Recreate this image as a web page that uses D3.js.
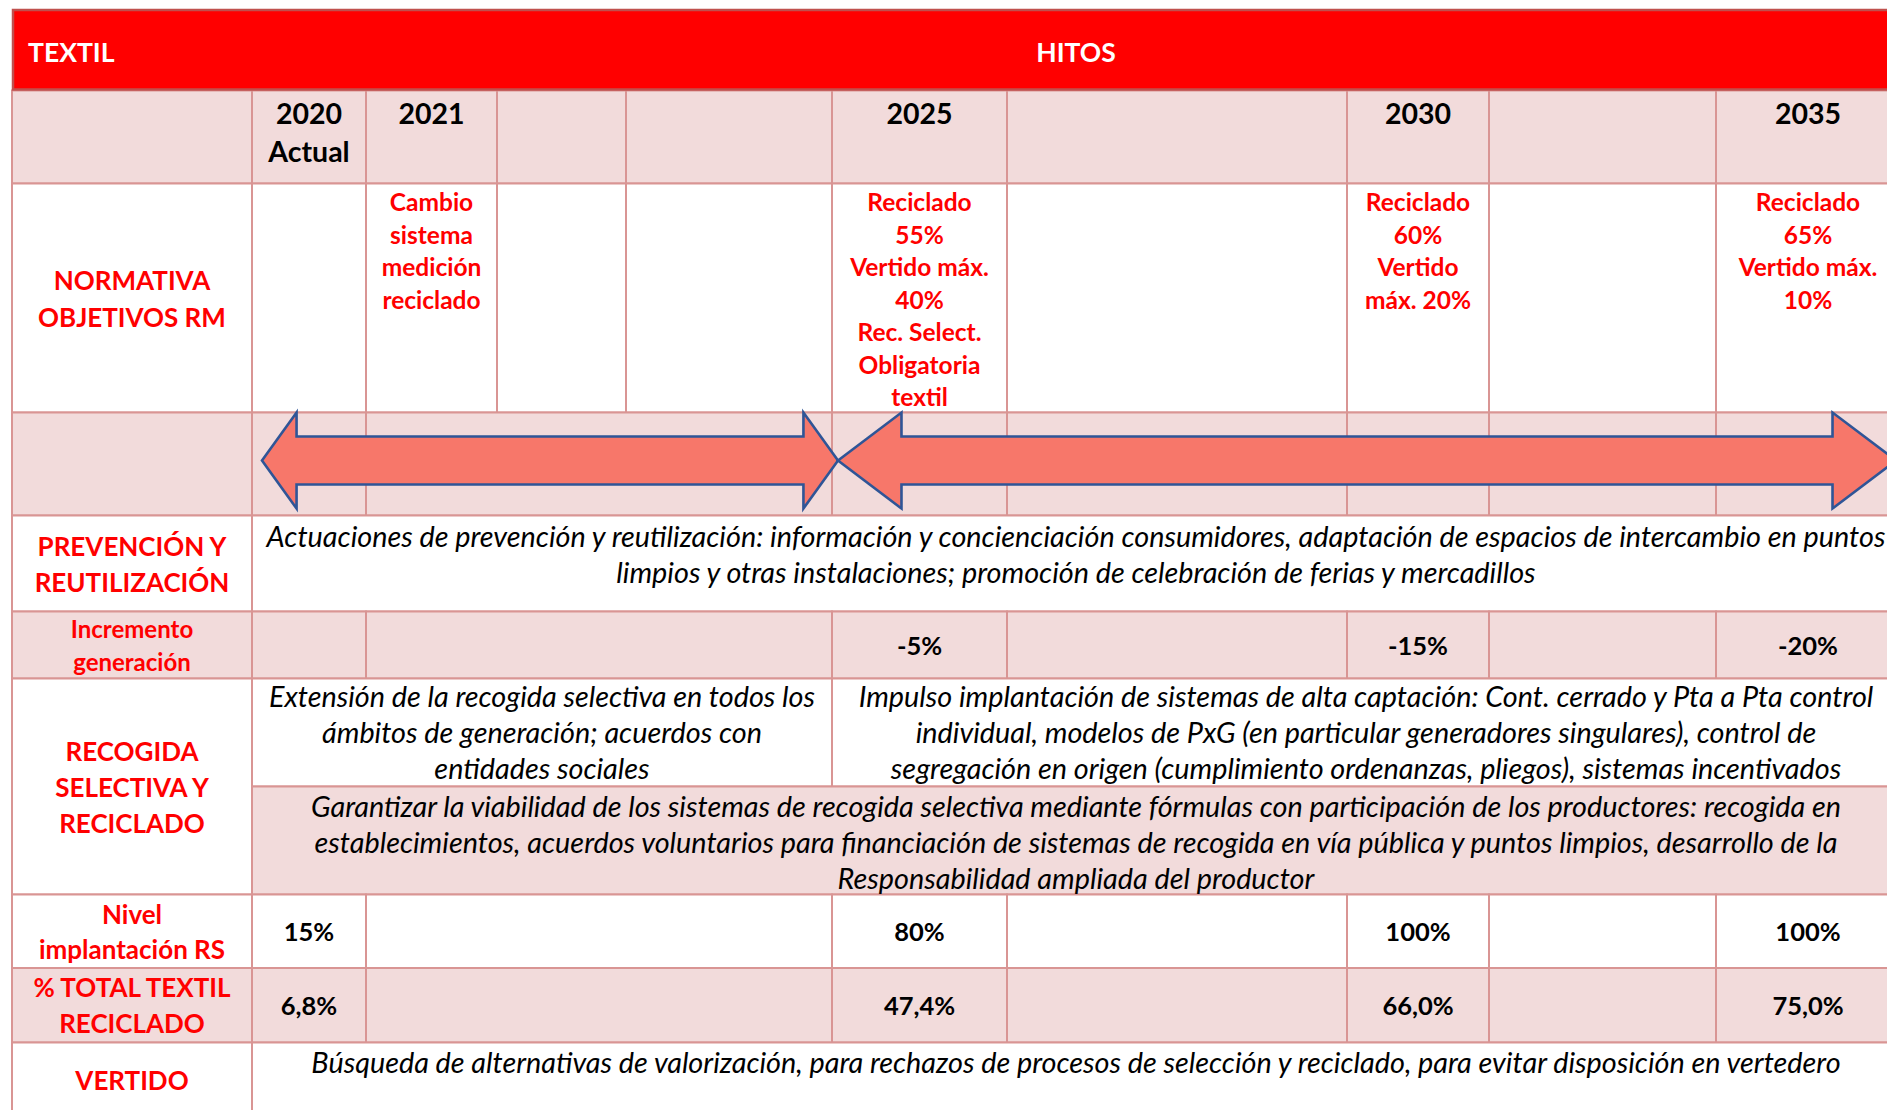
<!DOCTYPE html>
<html>
<head>
<meta charset="utf-8">
<script src="https://cdn.jsdelivr.net/npm/d3@7"></script>
<style>
  html, body { margin: 0; padding: 0; background: #fff; overflow: hidden; }
</style>
</head>
<body>
<svg id="chart" width="1887" height="1110"></svg>
<script>
// ---- data ----
var years = ["2020", "2021", "", "", "2025", "", "2030", "", "2035"];
var yearNotes = ["Actual", "", "", "", "", "", "", "", ""];
var normativaObjetivos = [
  [],
  ["Cambio", "sistema", "medición", "reciclado"],
  [], [],
  ["Reciclado", "55%", "Vertido máx.", "40%", "Rec. Select.", "Obligatoria", "textil"],
  [],
  ["Reciclado", "60%", "Vertido", "máx. 20%"],
  [],
  ["Reciclado", "65%", "Vertido máx.", "10%"]
];
var hitos = ["2020", "2025", "2030", "2035"];
var incrementoGeneracion = ["", "-5%", "-15%", "-20%"];
var nivelImplantacionRS = ["15%", "80%", "100%", "100%"];
var totalTextilReciclado = ["6,8%", "47,4%", "66,0%", "75,0%"];
var periodos = [["2020", "2025"], ["2025", "2035"]];

var etiquetas = {
  normativa: ["NORMATIVA", "OBJETIVOS RM"],
  prevencion: ["PREVENCIÓN Y", "REUTILIZACIÓN"],
  incremento: ["Incremento", "generación"],
  recogida: ["RECOGIDA", "SELECTIVA Y", "RECICLADO"],
  nivel: ["Nivel", "implantación RS"],
  total: ["% TOTAL TEXTIL", "RECICLADO"],
  vertido: ["VERTIDO"]
};
var txtPrevencion = [
  "Actuaciones de prevención y reutilización: información y concienciación consumidores, adaptación de espacios de intercambio en puntos",
  "limpios y otras instalaciones; promoción de celebración de ferias y mercadillos"
];
var txtRecogida2020 = [
  "Extensión de la recogida selectiva en todos los",
  "ámbitos de generación; acuerdos con",
  "entidades sociales"
];
var txtRecogida2025 = [
  "Impulso implantación de sistemas de alta captación: Cont. cerrado y Pta a Pta control",
  "individual, modelos de PxG (en particular generadores singulares), control de",
  "segregación en origen (cumplimiento ordenanzas, pliegos), sistemas incentivados"
];
var txtProductores = [
  "Garantizar la viabilidad de los sistemas de recogida selectiva mediante fórmulas con participación de los productores: recogida en",
  "establecimientos, acuerdos voluntarios para financiación de sistemas de recogida en vía pública y puntos limpios, desarrollo de la",
  "Responsabilidad ampliada del productor"
];
var txtVertido = [
  "Búsqueda de alternativas de valorización, para rechazos de procesos de selección y reciclado, para evitar disposición en vertedero"
];

// ---- layout ----
var FONT = "Lato, 'Liberation Sans', sans-serif";
var C = { red: "#ff0000", pink: "#f2dbdb", border: "#d99594", arrow: "#f7776a", arrowLine: "#2f5597" };
var tableLeft = 12, tableTop = 10;
var colW = [240, 114, 131, 129, 206, 175, 340, 142, 227, 184];
var rowNames = ["cabecera", "anios", "normativa", "flechas", "prevencion", "incremento", "recogida1", "recogida2", "nivel", "total", "vertido"];
var rowH = [80.5, 93, 229, 103, 96, 67, 108, 108, 73.5, 74.5, 90];

var colX = [tableLeft];
colW.forEach(function (w, i) { colX.push(colX[i] + w); });
var tableRight = colX[colX.length - 1];
var rowY = {}, yy = tableTop;
rowNames.forEach(function (r, i) { rowY[r] = [yy, yy + rowH[i]]; yy += rowH[i]; });

function colLeft(j) { return colX[j + 1]; }
function colRight(j) { return colX[j + 2]; }
function colMid(j) { return (colLeft(j) + colRight(j)) / 2; }
var labelMid = (colX[0] + colX[1]) / 2;
var bodyMid = (colX[1] + tableRight) / 2;

var svg = d3.select("#chart");
var gCells = svg.append("g");
var gArrows = svg.append("g");
var gText = svg.append("g");

// cell groups for the milestone rows: each hito column alone, the gaps merged
var bounds = [];
hitos.forEach(function (h) { var j = years.indexOf(h); bounds.push(j, j + 1); });
bounds = Array.from(new Set(bounds)).sort(d3.ascending);
var hitoGroups = d3.pairs(bounds);
var allGroups = years.map(function (d, j) { return [j, j + 1]; });

var cells = [];
function addCell(x0, x1, row0, row1, fill) {
  cells.push({ x0: x0, x1: x1, y0: rowY[row0][0], y1: rowY[row1 || row0][1], fill: fill });
}
function addRow(row, groups, fill) {
  addCell(colX[0], colX[1], row, row, fill);
  groups.forEach(function (g) { addCell(colLeft(g[0]), colX[g[1] + 1], row, row, fill); });
}

addRow("anios", allGroups, C.pink);
addRow("normativa", allGroups, "#fff");
addRow("flechas", hitoGroups, C.pink);
addRow("prevencion", [[0, years.length]], "#fff");
addRow("incremento", hitoGroups, C.pink);
addCell(colX[0], colX[1], "recogida1", "recogida2", "#fff");
addCell(colX[1], colLeft(years.indexOf("2025")), "recogida1", "recogida1", "#fff");
addCell(colLeft(years.indexOf("2025")), tableRight, "recogida1", "recogida1", "#fff");
addCell(colX[1], tableRight, "recogida2", "recogida2", C.pink);
addRow("nivel", hitoGroups, "#fff");
addRow("total", hitoGroups, C.pink);
addRow("vertido", [[0, years.length]], "#fff");

gCells.selectAll("rect.cell").data(cells).enter().append("rect")
  .attr("class", "cell")
  .attr("x", function (d) { return d.x0; })
  .attr("y", function (d) { return d.y0; })
  .attr("width", function (d) { return d.x1 - d.x0; })
  .attr("height", function (d) { return d.y1 - d.y0; })
  .style("fill", function (d) { return d.fill; })
  .style("stroke", C.border)
  .style("stroke-width", 2);

// red header band with its darker outline
gCells.append("rect")
  .attr("x", colX[0] + 1).attr("y", rowY.cabecera[0])
  .attr("width", tableRight - colX[0]).attr("height", rowH[0] - 1)
  .style("fill", C.red)
  .style("stroke", "#c0504d")
  .style("stroke-width", 2.5);

// ---- arrows ----
function arrowPath(x0, x1, yc) {
  var hw = 0.06 * (x1 - x0), hh = 48, sh = 24;
  return d3.line()([
    [x0, yc], [x0 + hw, yc - hh], [x0 + hw, yc - sh], [x1 - hw, yc - sh], [x1 - hw, yc - hh],
    [x1, yc], [x1 - hw, yc + hh], [x1 - hw, yc + sh], [x0 + hw, yc + sh], [x0 + hw, yc + hh]
  ]) + "Z";
}
var yArrow = (rowY.flechas[0] + rowY.flechas[1]) / 2 - 3.5;
gArrows.selectAll("path").data(periodos).enter().append("path")
  .attr("d", function (p, i) {
    var a = years.indexOf(p[0]), b = years.indexOf(p[1]);
    var x0 = i === 0 ? colLeft(a) + 10 : colLeft(a) + 6;
    var x1 = b === years.length - 1 ? colRight(b) - 4 : colLeft(b) + 6;
    return arrowPath(x0, x1, yArrow);
  })
  .style("fill", C.arrow)
  .style("stroke", C.arrowLine)
  .style("stroke-width", 2.6)
  .style("stroke-linejoin", "miter");

// ---- text ----
function block(lines, cx, y, lh, st) {
  gText.append("g").selectAll("text").data(lines).enter().append("text")
    .attr("x", cx)
    .attr("y", function (d, i) { return y + i * lh; })
    .attr("text-anchor", st.anchor || "middle")
    .attr("dominant-baseline", "central")
    .style("font-family", FONT)
    .style("font-size", st.size + "px")
    .style("font-weight", st.bold ? "bold" : "normal")
    .style("font-style", st.italic ? "italic" : "normal")
    .style("fill", st.color || "#000")
    .text(function (d) { return d; });
}
function centered(lines, cx, row, lh, st, row2) {
  var y0 = rowY[row][0], y1 = rowY[row2 || row][1];
  block(lines, cx, (y0 + y1) / 2 - (lines.length - 1) * lh / 2, lh, st);
}

var stHead = { size: 26.5, bold: true, color: "#fff" };
var stYear = { size: 28.5, bold: true };
var stLabel = { size: 26, bold: true, color: C.red };
var stLabelSm = { size: 24, bold: true, color: C.red };
var stNote = { size: 24.5, bold: true, color: C.red };
var stVal = { size: 25.5, bold: true };
var stIt = { size: 28.8, italic: true };

block(["TEXTIL"], colX[0] + 16, (rowY.cabecera[0] + rowY.cabecera[1]) / 2 + 2, 0, Object.assign({ anchor: "start" }, stHead));
block(["HITOS"], bodyMid, (rowY.cabecera[0] + rowY.cabecera[1]) / 2 + 2, 0, stHead);

years.forEach(function (y, j) {
  var lines = [y, yearNotes[j]].filter(function (d) { return d; });
  block(lines, colMid(j), rowY.anios[0] + 22, 38.5, stYear);
  block(normativaObjetivos[j], colMid(j), rowY.normativa[0] + 18, 32.5, stNote);
});

centered(etiquetas.normativa, labelMid, "normativa", 37, stLabel);
centered(etiquetas.prevencion, labelMid, "prevencion", 36, stLabel);
centered(etiquetas.incremento, labelMid, "incremento", 32.7, stLabelSm);
centered(etiquetas.recogida, labelMid, "recogida1", 36, stLabel, "recogida2");
centered(etiquetas.nivel, labelMid, "nivel", 35, stLabel);
centered(etiquetas.total, labelMid, "total", 36, stLabel);
block(etiquetas.vertido, labelMid, rowY.vertido[0] + 37.5, 0, stLabel);

hitos.forEach(function (h, k) {
  var cx = colMid(years.indexOf(h));
  centered([incrementoGeneracion[k]], cx, "incremento", 0, stVal);
  centered([nivelImplantacionRS[k]], cx, "nivel", 0, stVal);
  centered([totalTextilReciclado[k]], cx, "total", 0, stVal);
});

var x2025 = colLeft(years.indexOf("2025"));
block(txtPrevencion, bodyMid, rowY.prevencion[0] + 20.5, 36, stIt);
block(txtRecogida2020, (colX[1] + x2025) / 2, rowY.recogida1[0] + 17.6, 36, stIt);
block(txtRecogida2025, (x2025 + tableRight) / 2, rowY.recogida1[0] + 17.6, 36, stIt);
block(txtProductores, bodyMid, rowY.recogida2[0] + 19, 36, stIt);
block(txtVertido, bodyMid, rowY.vertido[0] + 19, 36, stIt);
</script>
</body>
</html>
